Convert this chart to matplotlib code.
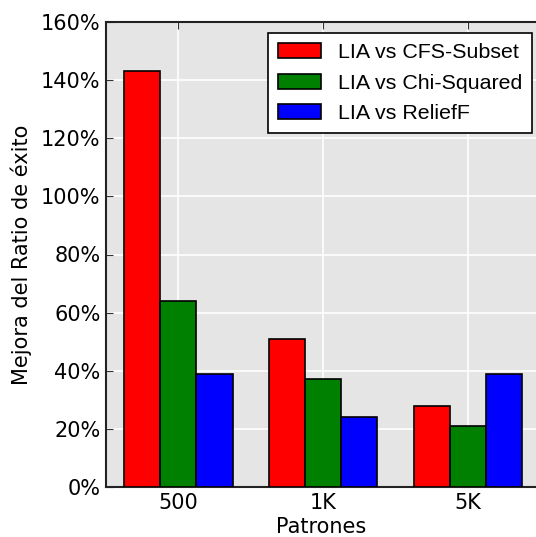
import matplotlib
matplotlib.use("Agg")
import matplotlib.pyplot as plt
import numpy as np

groups = ["500", "1K", "5K"]
series = ["LIA vs CFS-Subset", "LIA vs Chi-Squared", "LIA vs ReliefF"]
cfs = [143, 51, 28]
chi = [64, 37, 21]
relief = [39, 24, 39]
colors = ["red", "green", "blue"]

fig = plt.figure(figsize=(5.36, 5.37), dpi=100)
ax = fig.add_axes([106 / 536, 50 / 537, 1 - 106 / 536, (487 - 22) / 537])
ax.set_facecolor("#e5e5e5")

x = np.arange(len(groups))
w = 0.25
for i, (vals, lab) in enumerate(zip([cfs, chi, relief], series)):
    ax.bar(x + (i - 1) * w, vals, w, color=colors[i], edgecolor="black",
           linewidth=1.2, label=lab, zorder=3)

ax.set_xlim(-0.5, 2.47)
ax.set_ylim(0, 160)
ax.set_xticks(x)
ax.set_xticklabels(groups)
ax.set_yticks(range(0, 161, 20))
ax.set_yticklabels([f"{v}%" for v in range(0, 161, 20)])
ax.grid(True, color="white", linewidth=1.2, zorder=0)
ax.set_axisbelow(True)
ax.tick_params(direction="in", length=5, labelsize=15, top=True, right=False,
               color="#333333")
ax.tick_params(axis="y", pad=4)
ax.tick_params(axis="x", pad=4)
for s in ["left", "bottom", "top"]:
    ax.spines[s].set_color("#222222")
    ax.spines[s].set_linewidth(1.5)
ax.spines["right"].set_visible(False)

ax.set_xlabel("Patrones", fontsize=15, labelpad=3)
ax.set_ylabel("Mejora del Ratio de éxito", fontsize=15, labelpad=6)

leg = ax.legend(loc="upper right", bbox_to_anchor=(0.99, 0.976),
                borderaxespad=0,
                prop={"family": "Liberation Sans", "size": 15.4},
                fancybox=False, edgecolor="black", framealpha=1,
                handlelength=2.0, handleheight=0.7, borderpad=0.45,
                labelspacing=0.55, handletextpad=0.8)
leg.get_frame().set_linewidth(1.2)

fig.savefig("out.png", dpi=100)
